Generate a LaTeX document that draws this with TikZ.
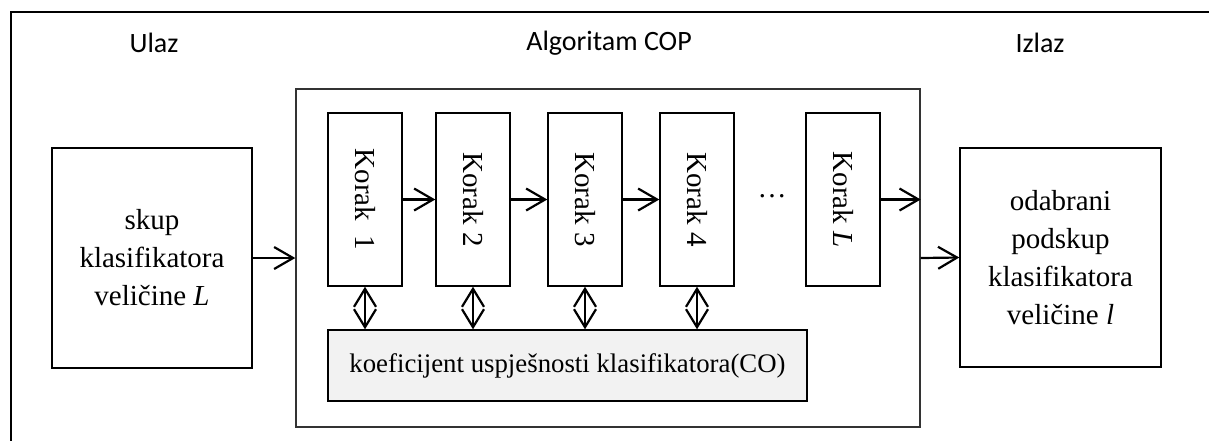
\documentclass[tikz,border=0pt]{standalone}
\usepackage{fontspec}
\setmainfont{Liberation Serif}
\newfontfamily\calib{Carlito}
\usetikzlibrary{arrows.meta}
\definecolor{cogray}{HTML}{F2F2F2}
\begin{document}
\begin{tikzpicture}[x=0.5pt,y=-0.5pt,
  boxstyle/.style={draw=black,line width=0.7pt,inner sep=0pt,align=center,
    font=\fontsize{14.5}{19}\selectfont},
  korakbox/.style={boxstyle,minimum width=37pt,minimum height=86.5pt},
  sidebox/.style={boxstyle,minimum width=100pt,minimum height=110pt},
  headlabel/.style={font=\calib\fontsize{14}{17}\selectfont,inner sep=0pt},
  korak/.style={rotate=-90,inner sep=0pt,font=\fontsize{14.5}{19}\selectfont},
  arr/.style={line width=1.1pt,-{Straight Barb[length=9.5pt,width=11pt,line width=1.1pt]}},
  darr/.style={line width=1.1pt,{Straight Barb[length=9pt,width=11pt,line width=1.1pt]}-{Straight Barb[length=9pt,width=11pt,line width=1.1pt]}}
]
\useasboundingbox (0,0) rectangle (1209,441);
% frame (top and left lines only)
\coordinate (ftl) at (11,12);
\coordinate (ftr) at (1209,12);
\coordinate (fbl) at (11,441);
\draw[line width=1.3pt] (ftr) -- (ftl) -- (fbl);

% head labels
\node[headlabel] (ulaz) at (154,43) {Ulaz};
\node[headlabel] (alglab) at (609,43) {Algoritam COP};
\node[headlabel] (izlaz) at (1040,43) {Izlaz};

% input and output boxes
\node[sidebox] (in) at (152,258) {skup\\klasifikatora\\veličine \textit{L}};
\node[boxstyle,minimum width=312pt,minimum height=169pt,draw=black!80] (alg) at (608,258) {};
\node[boxstyle,minimum width=100.5pt,minimum height=109.5pt] (out) at (1060.5,257.5)
  {odabrani\\podskup\\klasifikatora\\veličine \textit{l}};

% steps
\node[korakbox] (k1) at (365,199.5) {};
\node[korakbox] (k2) at (473,199.5) {};
\node[korakbox] (k3) at (585,199.5) {};
\node[korakbox] (k4) at (697,199.5) {};
\node[korakbox] (kL) at (843,199.5) {};
\node[korak] (t1) at (k1) {Korak\ \ 1};
\node[korak] (t2) at (k2) {Korak 2};
\node[korak] (t3) at (k3) {Korak 3};
\node[korak] (t4) at (k4) {Korak 4};
\node[korak] (tL) at (kL) {Korak \textit{L}};
\node[inner sep=0pt,font=\fontsize{14.5}{19}\selectfont] (dots) at (772,196) {…};

% CO box
\node[boxstyle,fill=cogray,minimum width=239.5pt,minimum height=35.5pt,
  font=\fontsize{13.4}{16}\selectfont] (co) at (567.5,365.5)
  {koeficijent uspješnosti klasifikatora(CO)};

% arrows
\draw[arr] (in.east) -- (alg.west);
\draw[arr] (k1.east) -- (k2.west);
\draw[arr] (k2.east) -- (k3.west);
\draw[arr] (k3.east) -- (k4.west);
\draw[arr] (kL.east) -- (kL.east -| alg.east);
\draw[arr] (alg.east) -- (out.west);
\draw[darr] (k1.south) -- (k1.south |- co.north);
\draw[darr] (k2.south) -- (k2.south |- co.north);
\draw[darr] (k3.south) -- (k3.south |- co.north);
\draw[darr] (k4.south) -- (k4.south |- co.north);
\end{tikzpicture}
\end{document}
